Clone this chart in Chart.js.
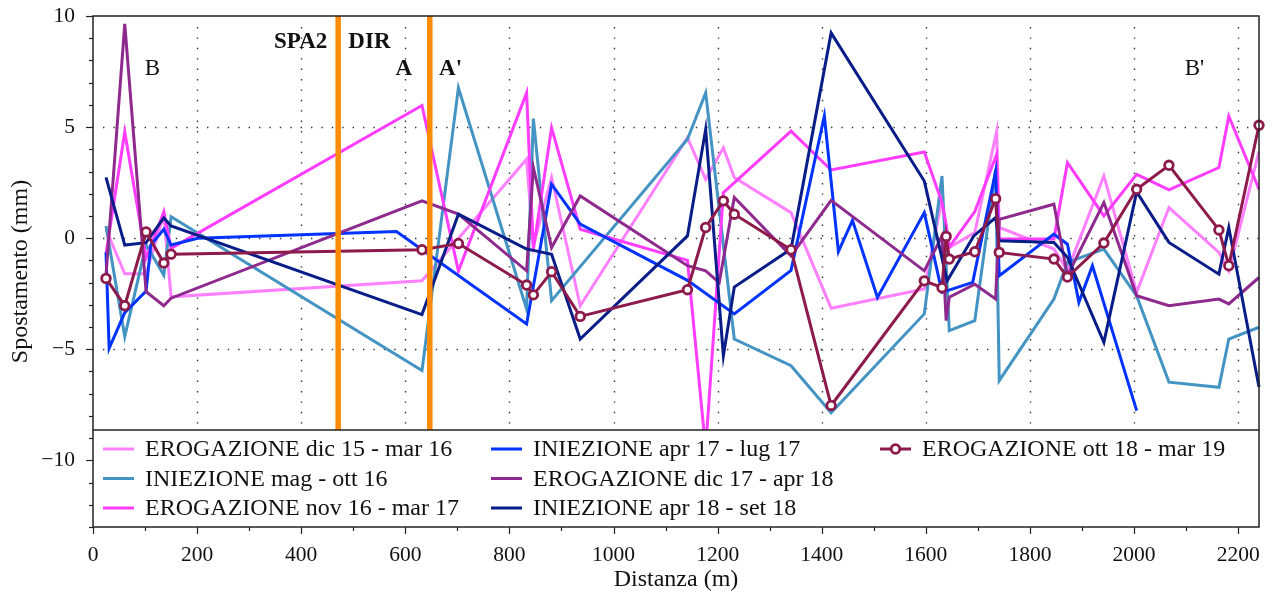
<!DOCTYPE html>
<html>
<head>
<meta charset="utf-8">
<script src="https://cdn.jsdelivr.net/npm/chart.js@4.4.0/dist/chart.umd.min.js"></script>
<style>
html,body{margin:0;padding:0;background:#fff;}
#wrap{width:1277px;height:597px;position:relative;}
</style>
</head>
<body>
<div id="wrap"><canvas id="c" width="1277" height="597"></canvas></div>
<script>
// ---------- DATA ----------
const seriesLabels = [
  'EROGAZIONE dic 15 - mar 16',
  'INIEZIONE mag - ott 16',
  'EROGAZIONE nov 16 - mar 17',
  'INIEZIONE apr 17 - lug 17',
  'EROGAZIONE dic 17 - apr 18',
  'INIEZIONE apr 18 - set 18',
  'EROGAZIONE ott 18 - mar 19'
];
const seriesColors = ['#ff80ff', '#4393c3', '#ff3cff', '#0033ff', '#8e2a8e', '#081d88', '#8c1a4b'];

const erogDic15X = [25, 61, 102, 136, 150, 632, 833, 846, 881, 936, 1142, 1177, 1211, 1232, 1341, 1418, 1597, 1631, 1645, 1694, 1736, 1741, 1846, 1872, 1942, 2005, 2067, 2163, 2182, 2240];
const erogDic15Y = [0.4, -1.6, -1.6, 1.06, -2.64, -1.92, 3.55, -0.35, 2.73, -3.04, 4.52, 2.65, 4.07, 2.73, 1.15, -3.15, -2.29, 1.75, -0.42, 0.25, 4.8, 0.48, -0.49, -1.47, 2.8, -2.44, 1.38, -0.64, -1.47, 3.9];

const iniezMag16X = [25, 61, 102, 136, 150, 632, 702, 833, 846, 881, 1142, 1177, 1232, 1341, 1418, 1597, 1631, 1645, 1694, 1734, 1741, 1846, 1872, 1942, 2005, 2067, 2163, 2182, 2240];
const iniezMag16Y = [0.55, -4.43, -0.3, -1.66, 0.96, -5.96, 6.77, -3.19, 5.38, -2.81, 4.45, 6.54, -4.54, -5.74, -7.86, -3.41, 2.8, -4.16, -3.71, 3.1, -6.41, -2.74, -1.09, -0.49, -2.6, -6.48, -6.71, -4.54, -4.01];

const erogNov16X = [25, 61, 102, 136, 150, 632, 702, 833, 846, 881, 936, 1142, 1177, 1211, 1341, 1418, 1597, 1631, 1639, 1645, 1694, 1736, 1741, 1846, 1872, 1942, 2005, 2067, 2163, 2182, 2240];
const erogNov16Y = [-0.7, 4.78, -0.9, 1.18, -0.46, 5.97, -1.48, 6.54, -0.5, 4.97, 0.4, -1.0, -9.5, 2.05, 4.82, 3.07, 3.88, 1.6, 0.6, -0.4, 1.2, 3.77, -0.04, -0.04, 3.4, 1.0, 2.87, 2.17, 3.18, 5.49, 2.2];

const iniezApr17X = [25, 31, 61, 102, 111, 136, 150, 201, 583, 833, 881, 936, 1142, 1232, 1341, 1405, 1432, 1459, 1507, 1597, 1631, 1690, 1734, 1741, 1846, 1872, 1894, 1920, 2005];
const iniezApr17Y = [-0.64, -4.96, -3.35, -2.38, -0.31, 0.4, -0.31, 0.0, 0.3, -3.86, 2.43, 0.63, -1.9, -3.41, -1.45, 5.5, -0.6, 0.8, -2.67, 1.15, -2.44, -1.99, 3.0, -1.69, 0.18, -0.27, -2.89, -1.24, -7.76];

const erogDic17X = [25, 61, 102, 136, 150, 632, 702, 833, 846, 881, 936, 1142, 1177, 1203, 1232, 1341, 1418, 1597, 1631, 1639, 1645, 1694, 1734, 1741, 1846, 1872, 1942, 2005, 2067, 2163, 2182, 2240];
const erogDic17Y = [-1.66, 9.65, -2.41, -3.04, -2.7, 1.68, 1.08, -1.47, 3.18, -0.42, 1.9, -1.24, -1.47, -2.0, 1.83, -0.8, 1.7, -1.47, 0.1, -3.71, -2.66, -2.07, -2.74, 0.85, 1.53, -1.69, 1.6, -2.59, -3.04, -2.74, -2.96, -1.77];

const iniezApr18X = [25, 61, 102, 136, 150, 632, 702, 833, 846, 881, 936, 1142, 1177, 1211, 1232, 1341, 1418, 1597, 1641, 1692, 1734, 1741, 1846, 1872, 1942, 2005, 2067, 2163, 2182, 2240];
const iniezApr18Y = [2.74, -0.31, -0.2, 0.91, 0.55, -3.44, 1.08, -0.49, -0.55, -0.72, -4.54, 0.1, 4.9, -5.29, -2.2, -0.49, 9.24, 2.57, -1.92, 0.1, 0.93, -0.12, -0.19, -0.86, -4.69, 2.08, -0.19, -1.62, 0.48, -6.7];

const erogOtt18X = [25, 61, 102, 136, 150, 632, 702, 833, 846, 881, 936, 1142, 1177, 1211, 1232, 1341, 1418, 1597, 1631, 1639, 1645, 1694, 1734, 1741, 1846, 1872, 1942, 2005, 2067, 2163, 2182, 2240];
const erogOtt18Y = [-1.81, -3.04, 0.28, -1.12, -0.72, -0.52, -0.24, -2.11, -2.55, -1.51, -3.52, -2.32, 0.48, 1.68, 1.08, -0.52, -7.53, -1.92, -2.23, 0.08, -0.94, -0.61, 1.78, -0.64, -0.94, -1.75, -0.22, 2.2, 3.28, 0.37, -1.24, 5.08];

const seriesX = [erogDic15X, iniezMag16X, erogNov16X, iniezApr17X, erogDic17X, iniezApr18X, erogOtt18X];
const seriesY = [erogDic15Y, iniezMag16Y, erogNov16Y, iniezApr17Y, erogDic17Y, iniezApr18Y, erogOtt18Y];

// axes
const xMin = 0, xMax = 2240, yMin = -13, yMax = 10;
const xTickValues = [0,100,200,300,400,500,600,700,800,900,1000,1100,1200,1300,1400,1500,1600,1700,1800,1900,2000,2100,2200];
const xTickLabels = ['0','','200','','400','','600','','800','','1000','','1200','','1400','','1600','','1800','','2000','','2200'];
const yTickValues = [-13,-12,-11,-10,-9,-8,-7,-6,-5,-4,-3,-2,-1,0,1,2,3,4,5,6,7,8,9,10];
const yTickLabels = ['','','','\u221210','','','','','\u22125','','','','','0','','','','','5','','','','','10'];
const xGrid = [200,400,600,800,1000,1200,1400,1600,1800,2000,2200];
const yGrid = [-10,-5,0,5];

// markers (vertical lines) and text annotations
const vLineX = [471, 647];
const annoText = ['SPA2', 'DIR', 'A', "A'", 'B', "B'"];
const annoX = [399, 531, 597, 687, 114, 2116];
const annoY = [8.55, 8.55, 7.35, 7.35, 7.35, 7.35];
const annoBold = [true, true, true, true, false, false];

const xTitle = 'Distanza (m)';
const yTitle = 'Spostamento (mm)';

// ---------- CHART ----------
const SERIF = '"Liberation Serif", "DejaVu Serif", serif';
const N = seriesLabels.length;
const datasets = seriesLabels.map((lab, i) => {
  const isMarker = i === N - 1;
  return {
    label: lab,
    data: seriesX[i].map((xv, k) => ({x: xv, y: seriesY[i][k]})),
    borderColor: seriesColors[i],
    backgroundColor: seriesColors[i],
    borderWidth: 3,
    tension: 0,
    pointRadius: isMarker ? 4.3 : 0,
    pointBorderWidth: isMarker ? 2.8 : 0,
    pointBackgroundColor: '#ffffff',
    pointBorderColor: seriesColors[i],
    pointHoverRadius: 0,
    order: N - i,
    clip: 6
  };
});

const decor = {
  id: 'decor',
  beforeDatasetsDraw(chart) {
    const {ctx, chartArea: a, scales: {x, y}} = chart;
    ctx.save();
    ctx.strokeStyle = '#333';
    ctx.lineWidth = 1.4;
    ctx.setLineDash([1.4, 9]);
    xGrid.forEach(v => {
      const px = Math.round(x.getPixelForValue(v)) + 0.5;
      ctx.beginPath(); ctx.moveTo(px, a.top + 11); ctx.lineTo(px, a.bottom); ctx.stroke();
    });
    yGrid.forEach(v => {
      const py = Math.round(y.getPixelForValue(v)) + 0.5;
      ctx.beginPath(); ctx.moveTo(a.left + 10, py); ctx.lineTo(a.right, py); ctx.stroke();
    });
    ctx.restore();
  },
  afterDatasetsDraw(chart) {
    const {ctx, chartArea: a, scales: {x, y}} = chart;
    ctx.save();
    ctx.strokeStyle = '#ff8c00';
    ctx.lineWidth = 5.5;
    vLineX.forEach(v => {
      const px = x.getPixelForValue(v);
      ctx.beginPath(); ctx.moveTo(px, a.top); ctx.lineTo(px, a.bottom); ctx.stroke();
    });
    ctx.fillStyle = '#111';
    ctx.textAlign = 'center';
    ctx.textBaseline = 'alphabetic';
    annoText.forEach((t, i) => {
      ctx.font = (annoBold[i] ? 'bold ' : '') + '23px ' + SERIF;
      ctx.fillText(t, x.getPixelForValue(annoX[i]), y.getPixelForValue(annoY[i]));
    });
    ctx.restore();
  },
  afterDraw(chart) {
    const {ctx, chartArea: a, scales: {x, y}} = chart;
    ctx.save();
    // legend box
    const lTop = a.bottom - 97;
    ctx.fillStyle = '#fff';
    ctx.fillRect(a.left, lTop, a.right - a.left, a.bottom - lTop);
    ctx.strokeStyle = '#222';
    ctx.lineWidth = 1.5;
    ctx.beginPath(); ctx.moveTo(a.left, lTop); ctx.lineTo(a.right, lTop); ctx.stroke();
    const colX = [a.left + 10, a.left + 398, a.left + 787];
    const rowY = [lTop + 19, lTop + 48.5, lTop + 78];
    ctx.font = '24px ' + SERIF;
    ctx.textBaseline = 'middle';
    ctx.textAlign = 'left';
    seriesLabels.forEach((lab, i) => {
      const c = Math.floor(i / 3), r = i % 3;
      const sx = colX[c], sy = rowY[r];
      ctx.strokeStyle = seriesColors[i];
      ctx.lineWidth = 3;
      ctx.beginPath(); ctx.moveTo(sx, sy); ctx.lineTo(sx + 31, sy); ctx.stroke();
      if (i === N - 1) {
        ctx.fillStyle = '#fff';
        ctx.lineWidth = 2.8;
        ctx.beginPath(); ctx.arc(sx + 15.5, sy, 4.3, 0, Math.PI * 2); ctx.fill(); ctx.stroke();
      }
      ctx.fillStyle = '#111';
      ctx.fillText(lab, sx + 42, sy + 1);
    });
    // frame
    ctx.strokeStyle = '#222';
    ctx.lineWidth = 1.5;
    ctx.strokeRect(a.left, a.top, a.right - a.left, a.bottom - a.top);
    // ticks
    ctx.lineWidth = 1.2;
    xTickValues.forEach((v, i) => {
      const px = Math.round(x.getPixelForValue(v)) + 0.5;
      const len = xTickLabels[i] !== '' ? 7 : 4;
      ctx.beginPath(); ctx.moveTo(px, a.bottom); ctx.lineTo(px, a.bottom + len); ctx.stroke();
    });
    yTickValues.forEach((v, i) => {
      const py = Math.round(y.getPixelForValue(v)) + 0.5;
      const len = yTickLabels[i] !== '' ? 7 : 4;
      ctx.beginPath(); ctx.moveTo(a.left, py); ctx.lineTo(a.left - len, py); ctx.stroke();
    });
    // axis titles
    ctx.fillStyle = '#111';
    ctx.font = '24px ' + SERIF;
    ctx.textAlign = 'center';
    ctx.textBaseline = 'alphabetic';
    ctx.fillText(xTitle, (a.left + a.right) / 2, 586);
    ctx.translate(27, (a.top + a.bottom) / 2);
    ctx.rotate(-Math.PI / 2);
    ctx.fillText(yTitle, 0, 0);
    ctx.restore();
  }
};

new Chart(document.getElementById('c'), {
  type: 'line',
  data: {datasets},
  options: {
    responsive: false,
    animation: false,
    devicePixelRatio: 1,
    parsing: true,
    layout: {padding: {left: 0, top: 16, right: 18, bottom: 0}},
    plugins: {legend: {display: false}, tooltip: {enabled: false}},
    events: [],
    scales: {
      x: {
        type: 'linear', min: xMin, max: xMax,
        afterBuildTicks: s => { s.ticks = xTickValues.map(v => ({value: v})); },
        afterFit: s => { s.height = 70; s.paddingLeft = 0; s.paddingRight = 0; },
        grid: {display: false, drawTicks: false},
        border: {display: false},
        ticks: {
          autoSkip: false, maxRotation: 0, padding: 15,
          color: '#111', font: {family: SERIF, size: 21.5},
          callback: (v) => xTickLabels[xTickValues.indexOf(v)] ?? ''
        }
      },
      y: {
        type: 'linear', min: yMin, max: yMax,
        afterBuildTicks: s => { s.ticks = yTickValues.map(v => ({value: v})); },
        afterFit: s => { s.width = 93; s.paddingTop = 0; s.paddingBottom = 0; },
        grid: {display: false, drawTicks: false},
        border: {display: false},
        ticks: {
          autoSkip: false, padding: 18,
          color: '#111', font: {family: SERIF, size: 21.5},
          callback: (v) => yTickLabels[yTickValues.indexOf(v)] ?? ''
        }
      }
    }
  },
  plugins: [decor]
});
</script>
</body>
</html>
